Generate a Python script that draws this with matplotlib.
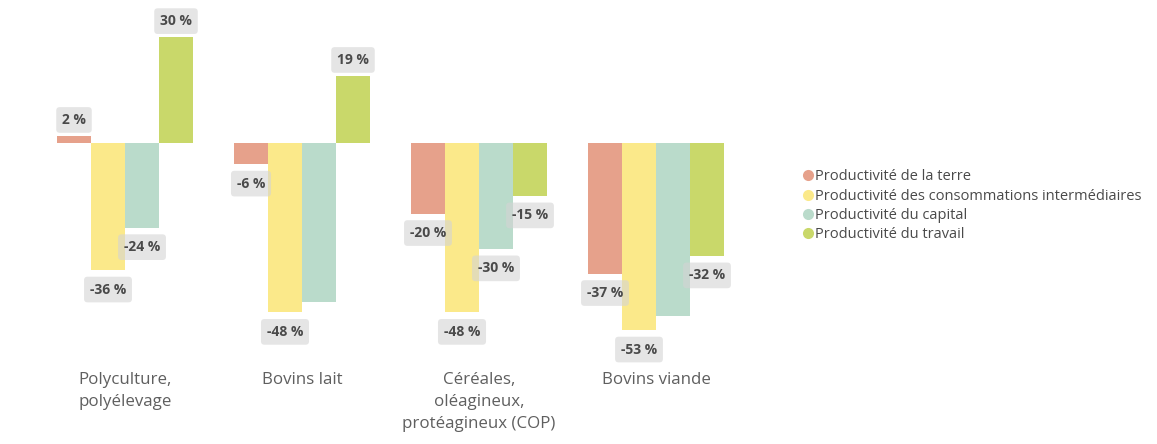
import numpy as np
import matplotlib
matplotlib.use("Agg")
import matplotlib.pyplot as plt
from matplotlib.lines import Line2D

plt.rcParams["font.family"] = ["Open Sans", "DejaVu Sans"]

categories = ["Polyculture,\npolyélevage", "Bovins lait",
              "Céréales,\noléagineux,\nprotéagineux (COP)", "Bovins viande"]
series = ["Productivité de la terre",
          "Productivité des consommations intermédiaires",
          "Productivité du capital",
          "Productivité du travail"]
terre = [2, -6, -20, -37]
consommations = [-36, -48, -48, -53]
capital = [-24, -45, -30, -49]
travail = [30, 19, -15, -32]
values = [terre, consommations, capital, travail]
# labels hidden where they would collide with a neighbour
shown = [[True, True, True, True],
         [True, True, True, True],
         [True, False, True, False],
         [True, True, True, True]]
colors = ["#E6A18B", "#FBE98A", "#BADBCB", "#C9D86A"]

# canvas in pixels, zero line at 143 px from the top, ~3.53 px per percent
W, H = 1157, 444
fig = plt.figure(figsize=(W / 100, H / 100), dpi=100)
ax = fig.add_axes([0, 0, 780 / W, 1])
px_x = 177.0
px_y = 3.53
ax.set_xlim(-125 / px_x, (780 - 125) / px_x)
ax.set_ylim(-(H - 143) / px_y, 143 / px_y)
ax.axis("off")

width = 34 / px_x
x = np.arange(len(categories))
for j, (vals, c) in enumerate(zip(values, colors)):
    pos = x + (j - 1.5) * width
    bars = ax.bar(pos, vals, width=width, color=c, linewidth=0, zorder=1)
    for b, v, s in zip(bars, vals, shown[j]):
        if not s:
            continue
        off = 11.5 if v >= 0 else -14
        ax.annotate("%d %%" % v, (b.get_x() + b.get_width() / 2, v),
                    xytext=(0, off), textcoords="offset points",
                    ha="center", va="center", fontsize=10,
                    fontweight="bold", color="#4a4a4a", zorder=3,
                    bbox=dict(boxstyle="round,pad=0.42,rounding_size=0.25",
                              fc="#d4d4d4", ec="none", alpha=0.6))

for i, cat in enumerate(categories):
    ax.text(x[i], -(372 - 143) / px_y, cat, ha="center", va="top",
            fontsize=12.2, color="#5f5f5f", linespacing=1.5)

# legend on the right
handles = [Line2D([], [], marker="o", ls="none", markersize=8,
                  markerfacecolor=c, markeredgecolor="none") for c in colors]
fig.legend(handles, series, loc="upper left",
           bbox_to_anchor=(796 / W, 1 - 162 / H), frameon=False,
           fontsize=10.5, labelcolor="#4a4a4a", handlelength=0.6,
           handletextpad=0.2, labelspacing=0.3, borderpad=0)

fig.savefig("out.png", dpi=100, facecolor="white")
